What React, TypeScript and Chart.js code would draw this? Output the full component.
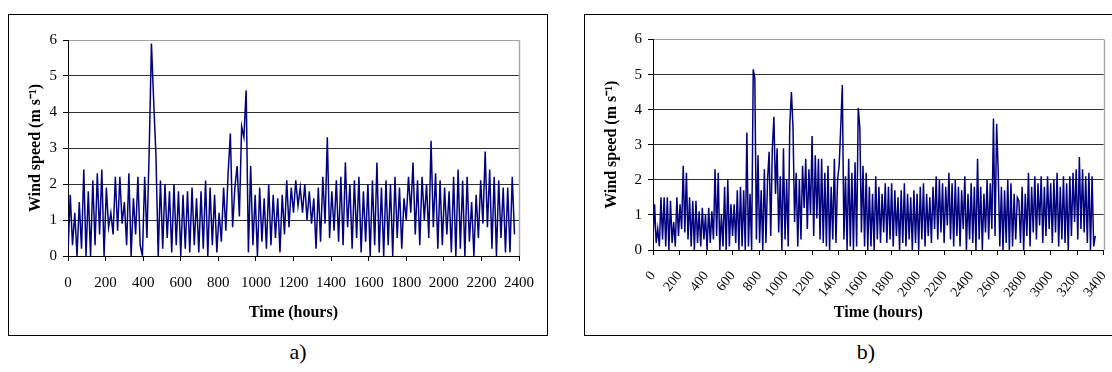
import React, { useEffect, useRef } from "react";
import { Chart, registerables } from "chart.js";

Chart.register(...registerables);

// Sampling interval of the series (hours)
const SAMPLE_HOURS = 12;

// Panel a) wind speed (m/s), one value every 12 h from 0 h
const windA: number[] = [
  0.1, 1.7, 0.3, 1.2, 0.0, 1.5, 0.2, 2.4, 0.0, 1.8,
  0.0, 2.1, 0.3, 2.3, 0.6, 2.4, 0.0, 1.9, 0.8, 1.2,
  0.6, 2.2, 0.7, 2.2, 0.9, 1.5, 0.3, 2.3, 0.0, 1.6,
  0.6, 2.2, 0.3, 0.0, 2.2, 0.5, 2.9, 5.9, 4.3, 2.8,
  0.0, 2.1, 0.2, 2.0, 0.5, 1.8, 0.1, 2.0, 0.3, 1.8,
  0.0, 1.7, 0.2, 1.8, 0.1, 1.9, 0.3, 1.6, 0.1, 1.8,
  0.2, 2.1, 0.0, 1.9, 0.3, 1.7, 0.1, 1.2, 0.4, 1.9,
  0.7, 2.3, 3.4, 0.8, 1.9, 2.5, 1.1, 3.6, 3.3, 4.6,
  0.1, 2.5, 0.3, 1.7, 0.0, 1.9, 0.4, 1.6, 0.2, 2.0,
  0.3, 1.7, 0.5, 1.6, 0.1, 1.7, 0.6, 2.1, 0.8, 1.9,
  1.2, 2.1, 1.4, 1.9, 1.2, 2.0, 1.0, 1.8, 0.9, 1.6,
  0.2, 1.9, 0.4, 2.2, 0.9, 3.3, 0.5, 1.8, 0.7, 2.1,
  0.4, 2.2, 0.3, 2.6, 0.8, 2.0, 0.2, 2.1, 0.5, 2.2,
  0.1, 1.8, 0.4, 2.0, 0.0, 2.1, 0.3, 2.6, 0.1, 1.9,
  0.0, 2.1, 0.3, 2.0, 0.0, 2.2, 0.5, 1.9, 0.2, 1.6,
  1.0, 2.2, 1.2, 2.6, 0.6, 2.1, 0.3, 2.2, 1.0, 2.0,
  0.5, 3.2, 0.8, 2.3, 0.2, 2.1, 0.3, 1.9, 0.6, 1.8,
  0.1, 2.2, 0.0, 2.4, 0.2, 2.1, 0.0, 2.2, 0.4, 1.5,
  0.0, 1.7, 0.5, 2.1, 0.9, 2.9, 0.8, 2.4, 0.2, 2.2,
  0.0, 2.1, 0.5, 1.9, 0.1, 1.9, 0.1, 2.2, 0.6,
];

// Panel b) wind speed (m/s), one value every 12 h from 0 h
const windB: number[] = [
  0.3, 1.3, 0.2, 0.6, 0.1, 1.5, 0.3, 1.5, 0.1, 1.5,
  0.0, 1.4, 0.2, 0.8, 0.1, 1.5, 0.4, 1.3, 0.6, 2.4,
  0.5, 2.2, 0.3, 1.5, 0.1, 1.4, 0.0, 1.4, 0.2, 1.1,
  0.1, 1.2, 0.3, 1.0, 0.0, 1.2, 0.2, 1.1, 0.3, 2.3,
  0.4, 2.2, 0.0, 1.0, 0.1, 1.8, 0.0, 2.0, 0.1, 1.3,
  0.4, 1.3, 0.2, 1.7, 0.0, 1.8, 0.1, 1.7, 0.0, 3.35,
  0.1, 1.6, 0.0, 5.15, 4.9, 0.3, 2.7, 0.2, 1.7, 0.0,
  2.3, 0.2, 2.0, 2.8, 0.4, 2.9, 3.8, 1.6, 2.9, 0.5,
  2.1, 0.0, 2.9, 0.3, 2.0, 0.1, 3.6, 4.5, 3.5, 0.8,
  2.2, 0.1, 2.0, 0.3, 2.4, 1.2, 2.6, 0.6, 2.3, 1.0,
  3.25, 0.4, 2.7, 0.9, 2.6, 0.3, 2.6, 0.2, 2.2, 0.1,
  2.4, 0.0, 1.8, 0.3, 2.6, 0.2, 2.0, 2.4, 3.5, 4.7,
  0.3, 2.1, 0.0, 2.6, 0.1, 2.2, 0.0, 2.5, 0.1, 4.05,
  3.5, 0.5, 2.4, 0.1, 2.2, 0.0, 1.8, 0.1, 1.6, 0.0,
  2.1, 0.3, 1.8, 0.2, 1.6, 0.5, 1.9, 0.2, 1.8, 0.3,
  1.9, 0.1, 1.7, 0.4, 1.5, 0.0, 1.7, 0.2, 1.9, 0.1,
  1.6, 0.3, 1.5, 0.0, 1.7, 0.2, 1.6, 0.0, 1.8, 0.3,
  1.9, 0.1, 1.6, 0.4, 1.5, 0.2, 1.8, 0.6, 2.1, 0.3,
  2.0, 0.5, 1.9, 0.2, 1.8, 0.7, 2.2, 0.3, 1.9, 0.1,
  2.0, 0.4, 1.8, 0.1, 1.7, 0.6, 2.1, 0.0, 1.6, 0.3,
  1.9, 0.2, 1.8, 0.0, 2.6, 0.3, 1.8, 0.0, 1.6, 0.5,
  2.0, 0.3, 1.9, 0.6, 3.75, 0.4, 3.6, 2.2, 0.1, 1.8,
  0.0, 1.7, 0.2, 2.0, 0.0, 1.9, 0.1, 1.6, 0.3, 1.5,
  1.4, 0.2, 1.8, 0.0, 1.6, 0.4, 2.2, 0.1, 1.8, 0.5,
  2.1, 0.3, 1.9, 0.7, 2.1, 0.2, 1.8, 0.4, 2.1, 0.6,
  1.9, 0.2, 2.0, 0.5, 2.2, 0.1, 1.8, 0.3, 2.1, 0.2,
  1.9, 0.0, 2.1, 0.4, 2.2, 0.8, 2.3, 0.3, 2.65, 0.6,
  2.3, 0.5, 2.1, 0.2, 2.2, 0.0, 2.1, 0.1, 0.4,
];

const X_MAX_A = 2400;
const X_MAX_B = 3400;
const X_STEP = 200;
const Y_MIN = 0;
const Y_MAX = 6;
const Y_STEP = 1;

const X_TITLE = "Time (hours)";
const Y_TITLE = "Wind speed (m s\u207B\u00B9)";
const CAPTION_A = "a)";
const CAPTION_B = "b)";

const SERIF = "'Liberation Serif', 'Times New Roman', serif";

const plotBorder = {
  id: "plotBorder",
  afterDraw(chart: any) {
    const { ctx, chartArea } = chart;
    const { right, top, bottom } = chartArea;
    ctx.save();
    ctx.strokeStyle = "#a8a8a8";
    ctx.lineWidth = 1.5;
    ctx.beginPath();
    ctx.moveTo(Math.round(right) + 0.5, top);
    ctx.lineTo(Math.round(right) + 0.5, bottom);
    ctx.stroke();
    ctx.restore();
  },
};

interface PanelOpts {
  values: number[];
  xMax: number;
  rotation: number;
  yAxisWidth: number;
  xAxisHeight: number;
  padTop: number;
  padRight: number;
  yTitlePad: number;
  xTickPad: number;
  xTickSize: number;
}

function makeConfig(o: PanelOpts): any {
  const points = o.values.map((v, i) => ({ x: i * SAMPLE_HOURS, y: v }));
  return {
    type: "line",
    data: {
      datasets: [
        {
          data: points,
          borderColor: "#000080",
          borderWidth: 1.5,
          pointRadius: 0,
          tension: 0,
          fill: false,
        },
      ],
    },
    options: {
      animation: false,
      responsive: false,
      devicePixelRatio: 1,
      layout: { padding: { top: o.padTop, right: o.padRight, left: 0, bottom: 0 } },
      plugins: { legend: { display: false }, tooltip: { enabled: false } },
      scales: {
        x: {
          type: "linear",
          min: 0,
          max: o.xMax,
          afterFit(scale: any) {
            scale.height = o.xAxisHeight;
          },
          ticks: {
            stepSize: X_STEP,
            autoSkip: false,
            color: "#000",
            padding: o.xTickPad,
            minRotation: o.rotation,
            maxRotation: o.rotation,
            font: { family: SERIF, size: o.xTickSize },
            callback: (v: any) => String(v),
          },
          grid: {
            drawOnChartArea: false,
            drawTicks: true,
            tickLength: 5,
            color: "#000",
            tickColor: "#000",
          },
          border: { display: true, color: "#000", width: 1 },
          title: {
            display: true,
            text: X_TITLE,
            color: "#000",
            font: { family: SERIF, size: 16, weight: "bold" },
            padding: { top: 0, bottom: 13 },
          },
        },
        y: {
          type: "linear",
          min: Y_MIN,
          max: Y_MAX,
          afterFit(scale: any) {
            scale.width = o.yAxisWidth;
          },
          ticks: {
            stepSize: Y_STEP,
            color: "#000",
            padding: 6,
            font: { family: SERIF, size: 15 },
            callback: (v: any) => String(v),
          },
          grid: {
            drawTicks: true,
            tickLength: 5,
            color: (c: any) => (c.tick && c.tick.value === Y_MAX ? "#a0a0a0" : "#303030"),
            tickColor: "#000",
            lineWidth: 1,
          },
          border: { display: true, color: "#000", width: 1 },
          title: {
            display: true,
            text: Y_TITLE,
            color: "#000",
            font: { family: SERIF, size: 16, weight: "bold" },
            padding: { top: o.yTitlePad, bottom: 0 },
          },
        },
      },
    },
    plugins: [plotBorder],
  };
}

function Panel(props: { opts: PanelOpts; width: number; height: number; style: React.CSSProperties }) {
  const ref = useRef<HTMLCanvasElement | null>(null);
  useEffect(() => {
    if (!ref.current) return;
    const chart = new Chart(ref.current, makeConfig(props.opts));
    return () => chart.destroy();
  }, []);
  return (
    <canvas
      ref={ref}
      width={props.width}
      height={props.height}
      style={{ position: "absolute", width: props.width, height: props.height, ...props.style }}
    />
  );
}

export default function App() {
  const optsA: PanelOpts = {
    values: windA,
    xMax: X_MAX_A,
    rotation: 0,
    yAxisWidth: 59,
    xAxisHeight: 79,
    padTop: 25,
    padRight: 23,
    yTitlePad: 17,
    xTickPad: 13,
    xTickSize: 15,
  };
  const optsB: PanelOpts = {
    values: windB,
    xMax: X_MAX_B,
    rotation: 52,
    yAxisWidth: 68,
    xAxisHeight: 85,
    padTop: 24.5,
    padRight: 15,
    yTitlePad: 17.5,
    xTickPad: 13,
    xTickSize: 14,
  };
  return (
    <div
      style={{
        position: "absolute",
        left: 0,
        top: 0,
        width: 1112,
        height: 372,
        overflow: "hidden",
        background: "#fff",
      }}
    >
      <div
        style={{
          position: "absolute",
          left: 8,
          top: 14,
          width: 540,
          height: 322,
          border: "1px solid #000",
          boxSizing: "border-box",
        }}
      />
      <div
        style={{
          position: "absolute",
          left: 584,
          top: 14,
          width: 600,
          height: 322,
          border: "1px solid #000",
          boxSizing: "border-box",
        }}
      />
      <Panel opts={optsA} width={538} height={320} style={{ left: 9, top: 15 }} />
      <Panel opts={optsB} width={545} height={320} style={{ left: 585, top: 15 }} />
      <div
        style={{
          position: "absolute",
          left: 248,
          top: 338,
          width: 100,
          textAlign: "center",
          fontFamily: SERIF,
          fontSize: 22,
          color: "#000",
          lineHeight: "28px",
        }}
      >
        {CAPTION_A}
      </div>
      <div
        style={{
          position: "absolute",
          left: 816,
          top: 338,
          width: 100,
          textAlign: "center",
          fontFamily: SERIF,
          fontSize: 22,
          color: "#000",
          lineHeight: "28px",
        }}
      >
        {CAPTION_B}
      </div>
    </div>
  );
}
